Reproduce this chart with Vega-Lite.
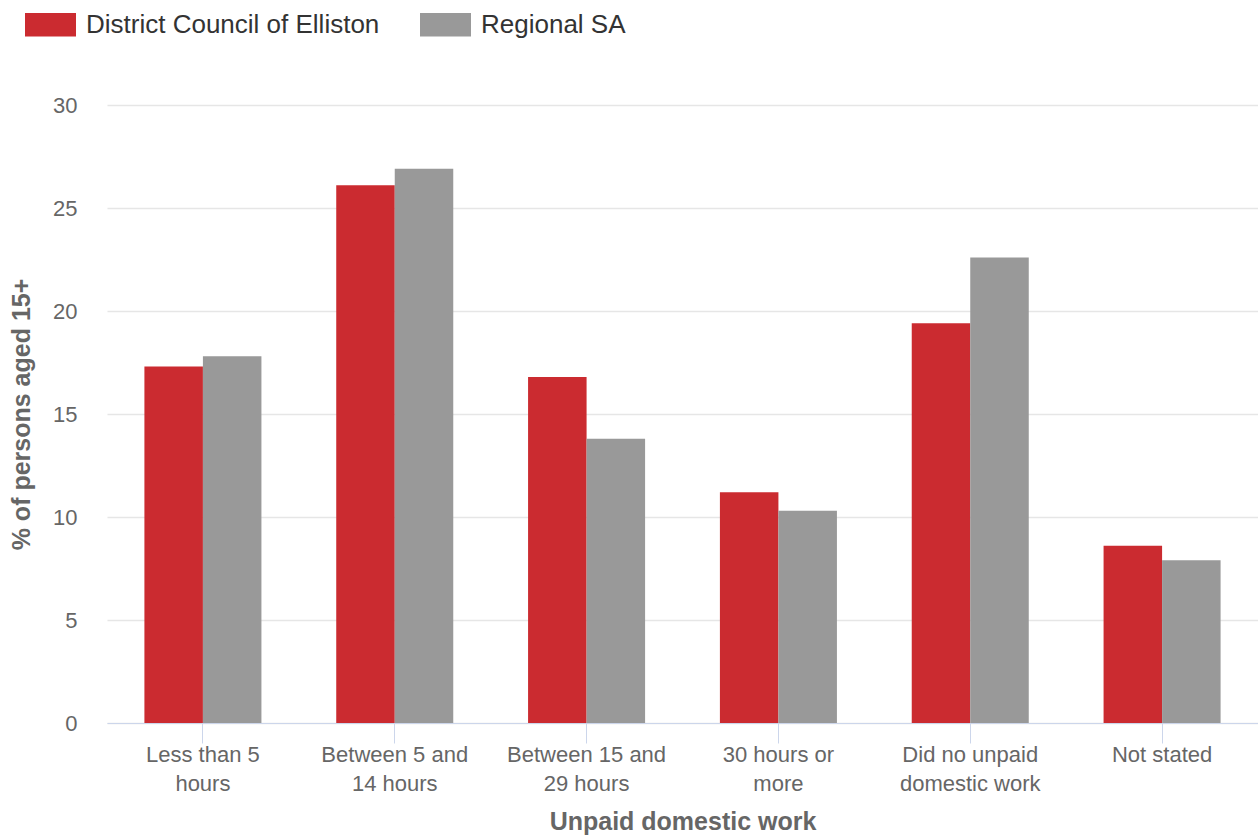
{
  "$schema": "https://vega.github.io/schema/vega-lite/v6.json",
  "width": 1151,
  "height": 618,
  "autosize": {"type": "none"},
  "padding": {"left": 107, "top": 105, "right": 0, "bottom": 116},
  "background": "white",
  "data": {
    "values": [
      {"category": "Less than 5|hours", "region": "District Council of Elliston", "value": 17.3},
      {"category": "Less than 5|hours", "region": "Regional SA", "value": 17.8},
      {"category": "Between 5 and|14 hours", "region": "District Council of Elliston", "value": 26.1},
      {"category": "Between 5 and|14 hours", "region": "Regional SA", "value": 26.9},
      {"category": "Between 15 and|29 hours", "region": "District Council of Elliston", "value": 16.8},
      {"category": "Between 15 and|29 hours", "region": "Regional SA", "value": 13.8},
      {"category": "30 hours or|more", "region": "District Council of Elliston", "value": 11.2},
      {"category": "30 hours or|more", "region": "Regional SA", "value": 10.3},
      {"category": "Did no unpaid|domestic work", "region": "District Council of Elliston", "value": 19.4},
      {"category": "Did no unpaid|domestic work", "region": "Regional SA", "value": 22.6},
      {"category": "Not stated", "region": "District Council of Elliston", "value": 8.6},
      {"category": "Not stated", "region": "Regional SA", "value": 7.9}
    ]
  },
  "mark": {"type": "bar"},
  "encoding": {
    "x": {
      "field": "category",
      "type": "nominal",
      "sort": null,
      "scale": {"paddingInner": 0.39, "paddingOuter": 0.195},
      "axis": {
        "labelExpr": "split(datum.value, '|')",
        "labelAngle": 0,
        "labelFont": "Liberation Sans",
        "labelFontSize": 22,
        "labelColor": "#666666",
        "labelLineHeight": 29,
        "labelPadding": 1,
        "labelBaseline": "top",
        "domainColor": "#ccd6eb",
        "domainWidth": 1,
        "tickColor": "#ccd6eb",
        "tickSize": 20,
        "tickWidth": 1,
        "title": "Unpaid domestic work",
        "titleFont": "Liberation Sans",
        "titleFontSize": 25,
        "titleFontWeight": "bold",
        "titleColor": "#666666",
        "titlePadding": 15,
        "zindex": 1
      }
    },
    "xOffset": {
      "field": "region",
      "sort": ["District Council of Elliston", "Regional SA"],
      "scale": {"paddingInner": 0, "paddingOuter": 0}
    },
    "y": {
      "field": "value",
      "type": "quantitative",
      "scale": {"domain": [0, 30], "nice": false},
      "axis": {
        "values": [0, 5, 10, 15, 20, 25, 30],
        "domain": false,
        "ticks": false,
        "grid": true,
        "gridColor": "#e6e6e6",
        "gridWidth": 1.5,
        "labelFont": "Liberation Sans",
        "labelFontSize": 22,
        "labelColor": "#666666",
        "labelPadding": 30,
        "title": "% of persons aged 15+",
        "titleFont": "Liberation Sans",
        "titleFontSize": 25,
        "titleFontWeight": "bold",
        "titleColor": "#666666",
        "titleX": -86,
        "titleBaseline": "middle"
      }
    },
    "color": {
      "field": "region",
      "type": "nominal",
      "scale": {
        "domain": ["District Council of Elliston", "Regional SA"],
        "range": ["#cb2b30", "#999999"]
      },
      "legend": {
        "orient": "none",
        "legendX": -82,
        "legendY": -106,
        "direction": "horizontal",
        "title": null,
        "symbolType": "M-1,-0.46H1V0.46H-1Z",
        "symbolSize": 2601,
        "symbolStrokeWidth": 0,
        "symbolOpacity": 1,
        "labelFont": "Liberation Sans",
        "labelFontSize": 26,
        "labelColor": "#333333",
        "labelOffset": 10,
        "labelLimit": 600,
        "columnPadding": 40
      }
    }
  },
  "config": {
    "view": {"stroke": null},
    "font": "Liberation Sans"
  }
}
